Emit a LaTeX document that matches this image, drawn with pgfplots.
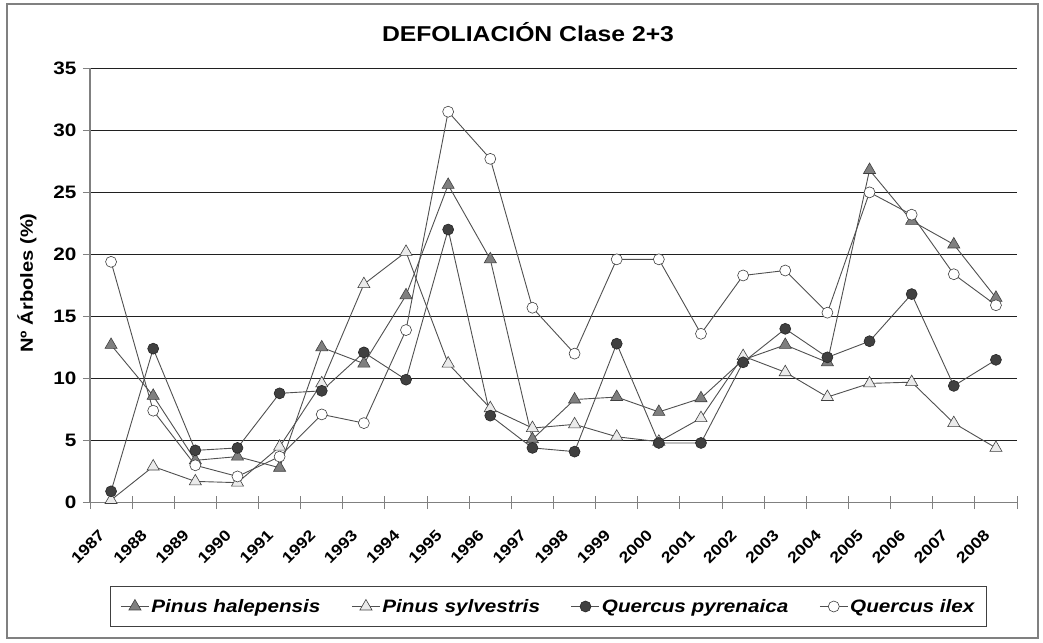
\documentclass[border=0pt]{standalone}
\usepackage{fontspec}
\setmainfont{Liberation Sans}[FakeStretch=1.15]
\usepackage{pgfplots}
\usepackage{pgfplotstable}
\pgfplotsset{compat=1.18}

\pgfplotstableread{
x halep sylv pyren ilex
0 12.7 0.2 0.9 19.4
1 8.6 2.9 12.4 7.4
2 3.4 1.7 4.2 3.0
3 3.7 1.6 4.4 2.1
4 2.8 4.5 8.8 3.7
5 12.5 9.6 9.0 7.1
6 11.2 17.6 12.1 6.4
7 16.7 20.2 9.9 13.9
8 25.6 11.2 22.0 31.5
9 19.6 7.6 7.0 27.7
10 5.1 6.0 4.4 15.7
11 8.3 6.3 4.1 12.0
12 8.5 5.3 12.8 19.6
13 7.3 4.9 4.8 19.6
14 8.4 6.8 4.8 13.6
15 11.5 11.8 11.3 18.3
16 12.7 10.5 14.0 18.7
17 11.3 8.5 11.7 15.3
18 26.8 9.6 13.0 25.0
19 22.7 9.7 16.8 23.2
20 20.8 6.4 9.4 18.4
21 16.5 4.4 11.5 15.9
}\datatable

\definecolor{gridc}{HTML}{202020}
\definecolor{axisc}{HTML}{808080}
\definecolor{lnc}{HTML}{505050}
\definecolor{mdark}{HTML}{404040}
\definecolor{mmid}{HTML}{7F7F7F}
\definecolor{mlight}{HTML}{EBEBEB}

\begin{document}
\begin{tikzpicture}[x=1pt,y=1pt]
\useasboundingbox (0,0) rectangle (1043,642);
\fill[white] (0,0) rectangle (1043,642);
\draw[axisc, line width=1.5pt] (7,4) rectangle (1038,638);
\node[font=\fontsize{21.5}{24}\selectfont\bfseries] at (528,610) {DEFOLIACIÓN Clase 2+3};
\node[rotate=90, font=\fontsize{17.5}{20}\selectfont\bfseries] at (27,359) {Nº Árboles (\%)};
\begin{axis}[
  at={(90pt,139.5pt)}, anchor=south west,
  scale only axis, width=927pt, height=434.2pt,
  xmin=-0.5, xmax=21.5, ymin=0, ymax=35,
  axis x line*=bottom, axis y line*=left,
  axis line style={axisc, line width=1.3pt},
  xtick={0,...,21},
  xticklabels={1987,1988,1989,1990,1991,1992,1993,1994,1995,1996,1997,1998,1999,2000,2001,2002,2003,2004,2005,2006,2007,2008},
  major x tick style={draw=none},
  minor xtick={-0.5,0.5,...,21.5},
  minor x tick style={axisc, line width=1pt},
  xtick align=center,
  minor tick length=13pt,
  ytick={0,5,...,35},
  ytick align=outside,
  major tick length=7pt,
  ytick style={axisc, line width=1pt},
  ymajorgrids,
  major grid style={gridc, line width=0.9pt},
  /pgf/number format/assume math mode=true,
  yticklabel style={font=\fontsize{18}{20}\selectfont\bfseries, xshift=-3pt},
  xticklabel style={font=\fontsize{15.5}{17}\selectfont\bfseries, inner sep=0pt, xshift=-9pt, yshift=-27pt, rotate=45, anchor=east},
  legend columns=4,
  legend style={at={(0.4946,-0.2395)}, anchor=center, draw=black!75, line width=0.8pt,
    font=\fontsize{18}{20}\selectfont\bfseries\itshape, inner xsep=10pt, inner ysep=11pt,
    /tikz/every even column/.append style={column sep=29pt}},
  legend image code/.code={\draw[mark repeat=2, mark phase=2] plot coordinates {(0pt,0pt) (14pt,0pt) (28pt,0pt)};},
  clip=false,
]
\addplot[lnc, line width=0.9pt, mark=triangle*, mark size=7pt, mark options={fill=mmid, draw=mdark, line width=0.6pt, solid}] table[x=x, y=halep] {\datatable};
\addlegendentry{Pinus halepensis}
\addplot[lnc, line width=0.9pt, mark=triangle*, mark size=7pt, mark options={fill=mlight, draw=mdark, line width=0.6pt, solid}] table[x=x, y=sylv] {\datatable};
\addlegendentry{Pinus sylvestris}
\addplot[lnc, line width=0.9pt, mark=*, mark size=5.5pt, mark options={fill=mdark, draw=black!85, line width=0.6pt, solid}] table[x=x, y=pyren] {\datatable};
\addlegendentry{Quercus pyrenaica}
\addplot[lnc, line width=0.9pt, mark=*, mark size=5.5pt, mark options={fill=white, draw=mdark, line width=0.6pt, solid}] table[x=x, y=ilex] {\datatable};
\addlegendentry{Quercus ilex}
\end{axis}
\end{tikzpicture}
\end{document}
